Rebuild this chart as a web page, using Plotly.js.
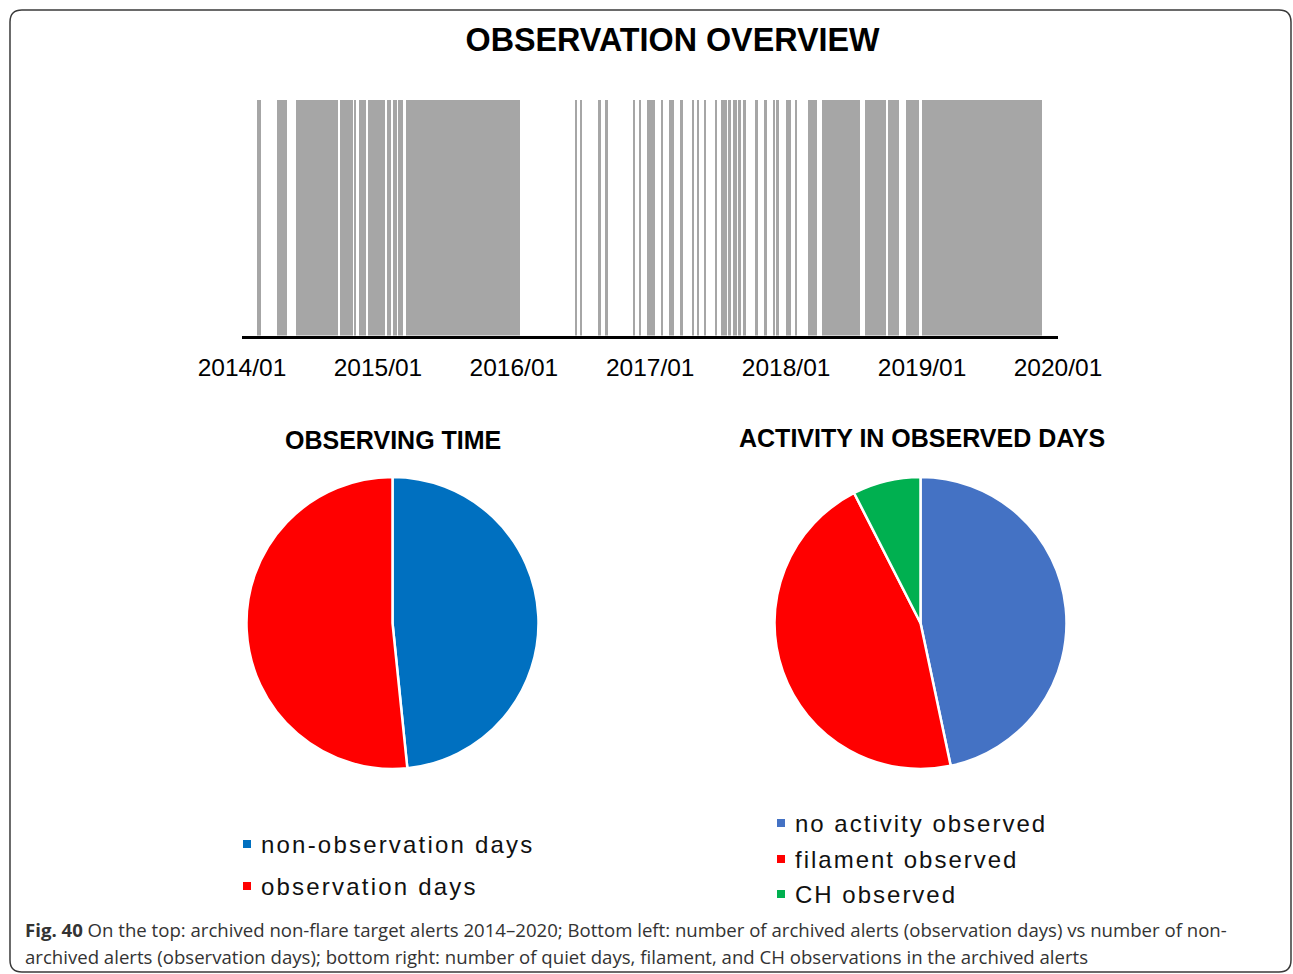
<!DOCTYPE html>
<html>
<head>
<meta charset="utf-8">
<script src="https://cdn.plot.ly/plotly-3.0.1.min.js"></script>
<style>
  html, body { margin: 0; padding: 0; background: #fff; }
  #chart { width: 1293px; height: 974px; }
</style>
</head>
<body>
<div id="chart"></div>
<script>
// ---- Observation overview: archived observation periods (start inclusive, end exclusive)
const obsStart = ['2014-02-11','2014-04-04','2014-05-27','2014-09-21','2014-10-28','2014-11-11','2014-12-05','2015-01-26','2015-02-10','2015-02-24','2015-03-16',
  '2016-06-12','2016-06-26','2016-08-14','2016-09-01','2016-11-15','2016-12-02','2016-12-23','2017-01-29','2017-02-21','2017-03-23','2017-04-22','2017-05-07','2017-05-25','2017-06-24','2017-07-09','2017-07-30','2017-08-11','2017-08-26','2017-09-08','2017-10-09','2017-11-02','2017-11-26','2017-12-06',
  '2018-01-01','2018-01-25','2018-02-28','2018-04-07','2018-08-01','2018-10-02','2018-11-20','2019-01-02'];
const obsEnd = ['2014-02-20','2014-05-01','2014-09-16','2014-10-25','2014-11-04','2014-11-30','2015-01-20','2015-02-04','2015-02-20','2015-03-10','2016-01-17',
  '2016-06-19','2016-07-02','2016-08-21','2016-09-09','2016-11-21','2016-12-07','2017-01-14','2017-02-05','2017-03-06','2017-03-29','2017-04-29','2017-05-13','2017-05-31','2017-06-30','2017-07-27','2017-08-05','2017-08-23','2017-09-01','2017-09-14','2017-10-18','2017-11-11','2017-12-02','2017-12-13',
  '2018-01-13','2018-01-31','2018-03-26','2018-07-18','2018-09-26','2018-10-31','2018-12-24','2019-11-18'];
const obsFlag = 1;

const tickDates  = ['2014-01-01','2015-01-01','2016-01-01','2017-01-01','2018-01-01','2019-01-01','2020-01-01'];
const tickLabels = ['2014/01','2015/01','2016/01','2017/01','2018/01','2019/01','2020/01'];

// ---- Observing time pie
const pie1Labels = ['non-observation days', 'observation days'];
const pie1Values = [1060, 1131];
const pie1Colors = ['#0070C0', '#FF0000'];

// ---- Activity in observed days pie
const pie2Labels = ['no activity observed', 'filament observed', 'CH observed'];
const pie2Values = [528, 518, 85];
const pie2Colors = ['#4472C4', '#FF0000', '#00B050'];

const titleMain = 'OBSERVATION OVERVIEW';
const titlePie1 = 'OBSERVING TIME';
const titlePie2 = 'ACTIVITY IN OBSERVED DAYS';
const captionLine1 = '<b>Fig. 40</b> On the top: archived non-flare target alerts 2014–2020; Bottom left: number of archived alerts (observation days) vs number of non-';
const captionLine2 = 'archived alerts (observation days); bottom right: number of quiet days, filament, and CH observations in the archived alerts';

// ---- helpers (pixel -> paper)
const W = 1293, H = 974;
const px = x => x / W;
const py = y => 1 - y / H;

const barTrace = {
  type: 'bar',
  x: obsStart,
  y: obsStart.map(() => obsFlag),
  width: obsStart.map((s, i) => Date.parse(obsEnd[i]) - Date.parse(s)),
  offset: 0,
  marker: { color: '#A6A6A6', line: { width: 0 } },
  xaxis: 'x', yaxis: 'y',
  showlegend: false,
  hoverinfo: 'x'
};

const pie1 = {
  type: 'pie',
  labels: pie1Labels, values: pie1Values,
  marker: { colors: pie1Colors, line: { color: '#ffffff', width: 2.5 } },
  domain: { x: [px(246.5), px(538.5)], y: [py(769), py(477)] },
  sort: false, direction: 'clockwise', rotation: 0,
  textinfo: 'none', showlegend: false
};
const pie2 = {
  type: 'pie',
  labels: pie2Labels, values: pie2Values,
  marker: { colors: pie2Colors, line: { color: '#ffffff', width: 2.5 } },
  domain: { x: [px(774.5), px(1066.5)], y: [py(769), py(477)] },
  sort: false, direction: 'clockwise', rotation: 0,
  textinfo: 'none', showlegend: false
};

const legFont = { family: 'Liberation Sans, Arial', size: 24, color: '#111' };
const annotations = [];
const shapes = [];

function addLegend(labels, colors, sqX, textX, rowsY, spacing) {
  labels.forEach((lab, i) => {
    const cy = rowsY[i];
    shapes.push({ type: 'rect', xref: 'paper', yref: 'paper',
      x0: px(sqX), x1: px(sqX + 8), y0: py(cy + 4), y1: py(cy - 4),
      fillcolor: colors[i], line: { width: 0 } });
    annotations.push({ xref: 'paper', yref: 'paper', x: px(textX), y: py(cy),
      xanchor: 'left', yanchor: 'middle', showarrow: false, borderpad: 0,
      text: '<span style="letter-spacing:' + spacing + 'px">' + lab + '</span>', font: legFont });
  });
}
addLegend(pie1Labels, pie1Colors, 243, 260, [844, 886], 2.2);
addLegend(pie2Labels, pie2Colors, 777, 794, [823, 859, 894], 2.0);

const titleFont = { family: 'Liberation Sans, Arial', color: '#000', weight: 'bold' };
annotations.push({ xref: 'paper', yref: 'paper', x: px(392.5), y: py(440), xanchor: 'center', yanchor: 'middle',
  showarrow: false, text: '<b>' + titlePie1 + '</b>', font: Object.assign({ size: 25 }, titleFont) });
annotations.push({ xref: 'paper', yref: 'paper', x: px(921.5), y: py(438), xanchor: 'center', yanchor: 'middle',
  showarrow: false, text: '<b>' + titlePie2 + '</b>', font: Object.assign({ size: 25 }, titleFont) });

const capFont = { family: 'Open Sans, Noto Sans, sans-serif', size: 18.6, color: '#333' };
annotations.push({ xref: 'paper', yref: 'paper', x: px(24), y: py(929), xanchor: 'left', yanchor: 'middle',
  showarrow: false, text: captionLine1, font: capFont, borderpad: 0 });
annotations.push({ xref: 'paper', yref: 'paper', x: px(24), y: py(956), xanchor: 'left', yanchor: 'middle',
  showarrow: false, text: captionLine2, font: capFont, borderpad: 0 });

// rounded frame
(function () {
  const x0 = 10, y0 = 10, x1 = 1291, y1 = 972, r = 12;
  const P = (x, y) => px(x).toFixed(5) + ',' + py(y).toFixed(5);
  const path = 'M' + P(x0 + r, y0) + ' L' + P(x1 - r, y0) + ' Q' + P(x1, y0) + ' ' + P(x1, y0 + r) +
    ' L' + P(x1, y1 - r) + ' Q' + P(x1, y1) + ' ' + P(x1 - r, y1) +
    ' L' + P(x0 + r, y1) + ' Q' + P(x0, y1) + ' ' + P(x0, y1 - r) +
    ' L' + P(x0, y0 + r) + ' Q' + P(x0, y0) + ' ' + P(x0 + r, y0) + ' Z';
  shapes.push({ type: 'path', xref: 'paper', yref: 'paper', path: path,
    line: { color: '#3a3a3a', width: 1.5 }, fillcolor: 'rgba(0,0,0,0)', layer: 'above' });
})();

const layout = {
  width: W, height: H,
  margin: { l: 0, r: 0, t: 0, b: 0, pad: 0 },
  paper_bgcolor: '#ffffff', plot_bgcolor: '#ffffff',
  title: { text: '<b>' + titleMain + '</b>', x: px(672.5), xanchor: 'center', y: py(40), yanchor: 'middle',
    font: { family: 'Liberation Sans, Arial', size: 32.3, color: '#000' } },
  xaxis: {
    domain: [px(242), px(1058)], type: 'date',
    range: ['2014-01-01', '2020-01-01'],
    tickvals: tickDates, ticktext: tickLabels,
    showline: true, linecolor: '#000', linewidth: 3,
    showgrid: false, zeroline: false, ticks: '',
    tickfont: { family: 'Liberation Sans, Arial', size: 24.5, color: '#000' },
    ticklabelstandoff: 8,
    fixedrange: true
  },
  yaxis: { domain: [py(335.5), py(100)], range: [0, 1], visible: false, fixedrange: true },
  bargap: 0,
  showlegend: false,
  annotations: annotations,
  shapes: shapes
};

Plotly.newPlot('chart', [barTrace, pie1, pie2], layout, { staticPlot: true, displayModeBar: false });
</script>
</body>
</html>
